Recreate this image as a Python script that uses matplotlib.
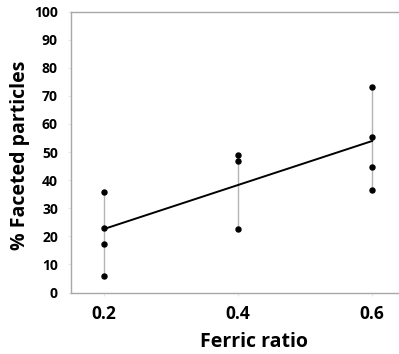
import numpy as np
import matplotlib
matplotlib.use("Agg")
import matplotlib.pyplot as plt

# Data
ferric_ratio = [0.2, 0.4, 0.6]
faceted_02 = [35.8, 22.9, 17.2, 6.0]
faceted_04 = [48.9, 46.7, 22.7]
faceted_06 = [73.0, 55.3, 44.6, 36.6]
trend_x = [0.2, 0.6]
trend_y = [22.6, 53.9]
x_ticks = [0.2, 0.4, 0.6]
y_ticks = [0, 10, 20, 30, 40, 50, 60, 70, 80, 90, 100]

plt.rcParams["font.family"] = ["Open Sans", "DejaVu Sans"]

fig = plt.figure(figsize=(3.99, 3.54), dpi=100)
W, H = 399, 354
# axes runs past the right edge, as in the cropped reference
ax_l, ax_r, ax_t, ax_b = 70.5, 405.5, 11.5, 292.5
ax = fig.add_axes([ax_l / W, (H - ax_b) / H, (ax_r - ax_l) / W, (ax_b - ax_t) / H])

groups = [faceted_02, faceted_04, faceted_06]
for x, vals in zip(ferric_ratio, groups):
	# grey range line from min to max of each group
	ax.vlines(x, min(vals), max(vals), color="#b4b4b4", linewidth=1.0, zorder=1)
	ax.plot([x] * len(vals), vals, "o", color="black", markersize=3.6, zorder=3)

# trend line
ax.plot(trend_x, trend_y, color="black", linewidth=1.4, zorder=2)

ax.set_xlim(0.15, 0.65)
ax.set_ylim(0, 100)
ax.set_xticks(x_ticks)
ax.set_xticklabels([f"{v:.1f}" for v in x_ticks], fontsize=12.5, fontweight="bold")
ax.set_yticks(y_ticks)
ax.set_yticklabels([str(v) for v in y_ticks], fontsize=10, fontweight="bold")
ax.tick_params(axis="both", length=2, color="#e8e8e8", pad=7)

for side in ["top", "right", "bottom", "left"]:
	ax.spines[side].set_color("#a8a8a8")
	ax.spines[side].set_linewidth(1.0)

ax.set_xlabel("Ferric ratio", fontsize=14, fontweight="bold")
ax.set_ylabel("% Faceted particles", fontsize=14, fontweight="bold")
# place labels by pixel position (axes coords)
ax.xaxis.set_label_coords((253.5 - ax_l) / (ax_r - ax_l), -(341.7 - ax_b) / (ax_b - ax_t))
ax.xaxis.label.set_va("center")
ax.yaxis.set_label_coords(-(ax_l - 20) / (ax_r - ax_l), (ax_b - 155.5) / (ax_b - ax_t))
ax.yaxis.label.set_va("center")

fig.savefig("out.png", dpi=100)
